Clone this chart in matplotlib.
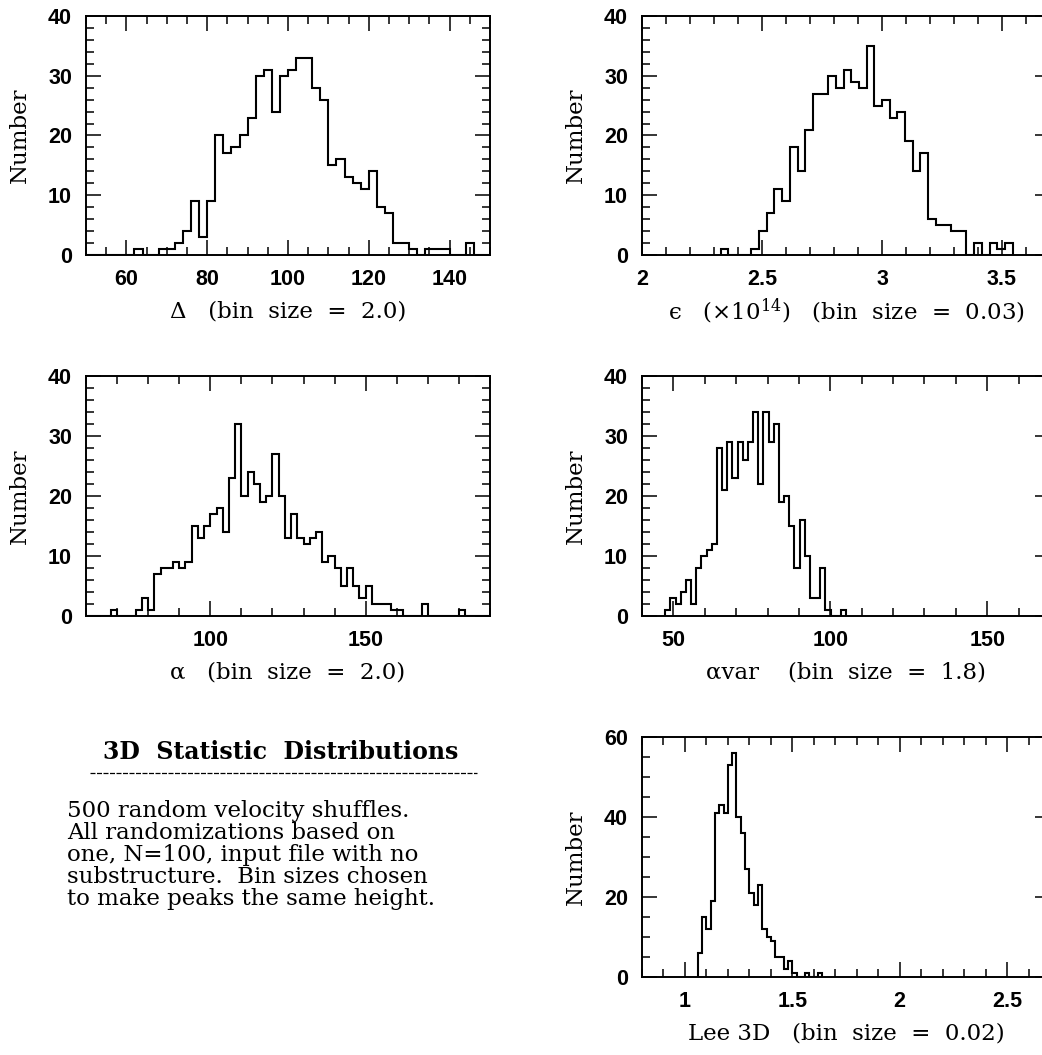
import matplotlib
matplotlib.use("Agg")
import matplotlib.pyplot as plt
import numpy as np
from matplotlib.lines import Line2D
from matplotlib.ticker import FuncFormatter, MultipleLocator

plt.rcParams["font.family"] = ["Liberation Sans", "DejaVu Sans"]
plt.rcParams["mathtext.fontset"] = "dejavuserif"
SERIF = ["DejaVu Serif", "DejaVu Sans"]

# --- data (500 shuffles each) ---
delta_start, delta_width = 50.0, 2.0
delta_counts = [0, 0, 0, 0, 0, 0, 1, 0, 0, 1, 1, 2, 4, 9, 3, 9, 20, 17, 18, 20,
                23, 30, 31, 24, 30, 31, 33, 33, 28, 26, 15, 16, 13, 12, 11, 14,
                8, 7, 2, 2, 1, 0, 1, 1, 1, 0, 0, 2, 0, 0]

eps_start, eps_width = 2.328, 0.032
eps_counts = [1, 0, 0, 0, 1, 4, 7, 11, 9, 18, 14, 21, 27, 27, 30, 28, 31, 29,
              28, 35, 25, 26, 23, 24, 19, 14, 17, 6, 5, 5, 4, 4, 0, 2, 0, 2, 1, 2]

alpha_start, alpha_width = 60.0, 2.0
alpha_counts = [0, 0, 0, 0, 1, 0, 0, 0, 1, 3, 1, 7, 8, 8, 9, 8, 9, 15, 13, 15,
                17, 18, 14, 23, 32, 20, 24, 22, 19, 20, 27, 20, 13, 17, 13, 12,
                13, 14, 9, 10, 8, 5, 8, 5, 3, 5, 2, 2, 2, 1, 1, 0, 0, 0, 2, 0,
                0, 0, 0, 0, 1, 0, 0, 0, 0]

avar_start, avar_width = 47.39, 1.647
avar_counts = [1, 3, 2, 4, 6, 2, 8, 10, 11, 12, 28, 21, 29, 23, 29, 26, 29, 34,
               22, 34, 29, 32, 19, 20, 15, 8, 16, 10, 3, 3, 8, 1, 0, 0, 1]

lee_start, lee_width = 1.06, 0.02
lee_counts = [6, 15, 12, 19, 41, 43, 41, 53, 56, 40, 36, 27, 21, 18, 23, 12, 10,
              9, 5, 5, 2, 4, 1, 0, 0, 1, 0, 0, 1]

W, H = 1042, 1055
fig = plt.figure(figsize=(W / 100, H / 100), dpi=100, facecolor="white")


def panel(x0, x1, top, bottom):
    return fig.add_axes([x0 / W, 1 - bottom / H, (x1 - x0) / W, (bottom - top) / H])


def draw(ax, start, width, counts, xlim, ylim, xmaj, xmin, ymaj, ymin, xlabel):
    edges = start + width * np.arange(len(counts) + 1)
    ax.stairs(counts, edges, baseline=0, color="black", linewidth=1.5)
    ax.set_xlim(*xlim)
    ax.set_ylim(*ylim)
    ax.xaxis.set_major_locator(MultipleLocator(xmaj))
    ax.xaxis.set_minor_locator(MultipleLocator(xmin))
    ax.yaxis.set_major_locator(MultipleLocator(ymaj))
    ax.yaxis.set_minor_locator(MultipleLocator(ymin))
    ax.xaxis.set_major_formatter(FuncFormatter(lambda v, p: f"{v:g}"))
    ax.tick_params(which="both", direction="in", top=True, right=True, width=1.1)
    ax.tick_params(which="major", length=11)
    ax.tick_params(which="minor", length=6)
    ax.tick_params(axis="x", which="major", pad=10)
    ax.tick_params(axis="y", which="major", pad=10)
    for lab in ax.get_xticklabels() + ax.get_yticklabels():
        lab.set_fontsize(15.5)
        lab.set_fontweight("bold")
    for spine in ax.spines.values():
        spine.set_linewidth(1.4)
    ax.set_xlabel(xlabel, fontfamily=SERIF, fontsize=16.5, va="center")
    ax.xaxis.set_label_coords(0.5, -0.235)
    ax.set_ylabel("Number", fontfamily=SERIF, fontsize=16.5, va="center")
    ax.yaxis.set_label_coords(-0.163, 0.5)


ax1 = panel(86, 490, 16, 255)
draw(ax1, delta_start, delta_width, delta_counts, (50, 150), (0, 40), 20, 5, 10, 2,
     "Δ   (bin  size  =  2.0)")

ax2 = panel(642, 1050, 16, 255)
draw(ax2, eps_start, eps_width, eps_counts, (2, 3.7), (0, 40), 0.5, 0.1, 10, 2,
     "ϵ   (×10$^{14}$)   (bin  size  =  0.03)")

ax3 = panel(86, 490, 376, 616)
draw(ax3, alpha_start, alpha_width, alpha_counts, (60, 190), (0, 40), 50, 10, 10, 2,
     "α   (bin  size  =  2.0)")

ax4 = panel(642, 1050, 376, 616)
draw(ax4, avar_start, avar_width, avar_counts, (40, 170), (0, 40), 50, 10, 10, 2,
     "αvar    (bin  size  =  1.8)")

ax5 = panel(642, 1050, 737, 977)
draw(ax5, lee_start, lee_width, lee_counts, (0.8, 2.7), (0, 60), 0.5, 0.1, 20, 5,
     "Lee 3D   (bin  size  =  0.02)")

# caption block
fig.text(281 / W, 1 - 752 / H, "3D  Statistic  Distributions", fontfamily=SERIF,
         fontsize=17, fontweight="bold", ha="center", va="center")
fig.add_artist(Line2D([90 / W, 477 / W], [1 - 773 / H, 1 - 773 / H], color="black",
                      linewidth=0.9, linestyle=(0, (4, 1.2))))
caption = [
    "500 random velocity shuffles.",
    "All randomizations based on",
    "one, N=100, input file with no",
    "substructure.  Bin sizes chosen",
    "to make peaks the same height.",
]
for i, line in enumerate(caption):
    fig.text(67 / W, 1 - (811 + 22 * i) / H, line, fontfamily=SERIF, fontsize=16.5,
             ha="left", va="center")

fig.savefig("out.png", dpi=100, facecolor="white")
